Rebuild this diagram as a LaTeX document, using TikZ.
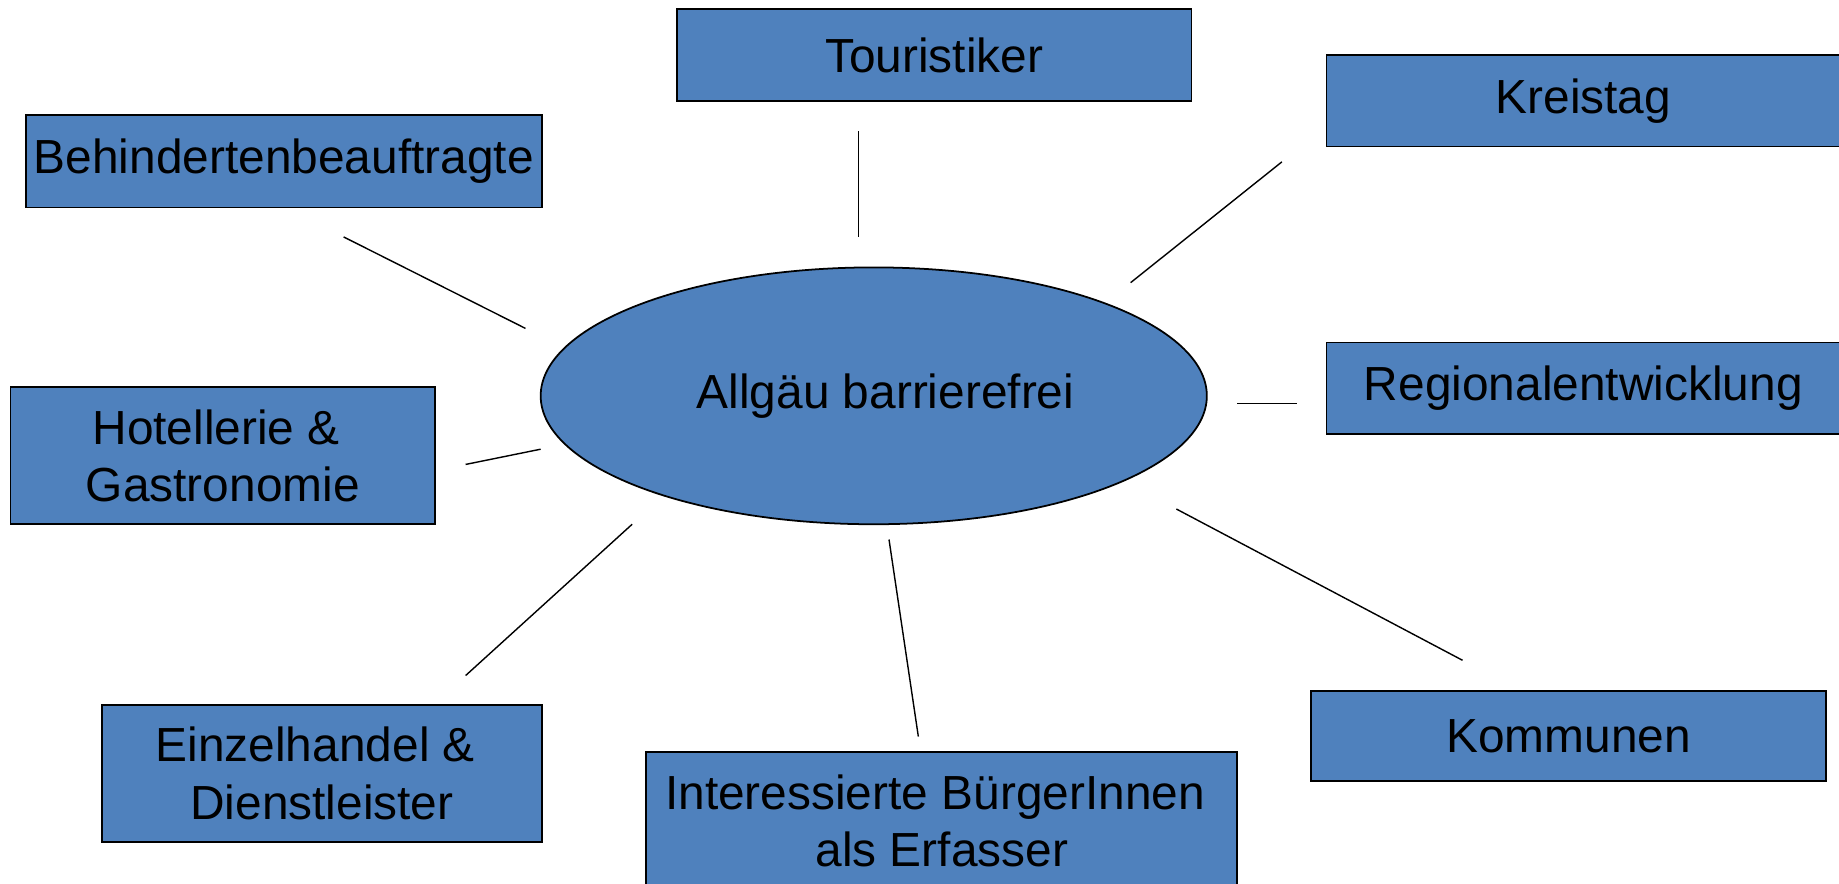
\documentclass[tikz,border=0pt]{standalone}
\usepackage{fontspec}
\setmainfont{Liberation Sans}
\usetikzlibrary{shapes.geometric}
\definecolor{boxblue}{HTML}{4F81BD}
\newcommand{\dn}[1]{\raisebox{-2pt}{#1}}
\begin{document}
\begin{tikzpicture}[x=0.5pt,y=-0.5pt,
  every node/.style={inner sep=0pt,outer sep=0pt,font=\fontsize{20.4}{24.5}\selectfont},
  actor/.style={draw=black,fill=boxblue,line width=0.75pt,rectangle,align=center},
  hub/.style={draw=black,fill=boxblue,line width=0.75pt,ellipse,minimum width=284pt,minimum height=109.5pt},
  link/.style={draw=black,line width=0.6pt}]
\useasboundingbox (0,0) rectangle (1568,753.7);
\node[hub] (hub) at (745,337.5) {\hspace*{10pt}\dn{Allgäu barrierefrei}};
\node[actor,minimum width=219.5pt,minimum height=39pt] (tour) at (796.5,47) {\dn{Touristiker}};
\node[actor,minimum width=219pt,minimum height=39pt] (kreis) at (1350,86) {\dn{Kreistag}};
\node[actor,minimum width=220pt,minimum height=39.5pt] (behind) at (242,137.5) {\dn{Behindertenbeauftragte}};
\node[actor,minimum width=219pt,minimum height=39pt] (regio) at (1350,331) {\dn{Regionalentwicklung}};
\node[actor,minimum width=181pt,minimum height=58.5pt] (hotel) at (190,388.5) {Hotellerie \&\hspace*{0.278em}\\Gastronomie};
\node[actor,minimum width=187.5pt,minimum height=58.5pt] (einzel) at (274.5,659.5) {Einzelhandel \&\hspace*{0.278em}\\Dienstleister};
\node[actor,minimum width=252pt,minimum height=58.5pt] (inter) at (803,700) {Interessierte BürgerInnen\hspace*{0.278em}\\als Erfasser};
\node[actor,minimum width=219.5pt,minimum height=38.5pt] (komm) at (1337.5,627.5) {\dn{Kommunen}};
% free-standing connector ends
\coordinate (t1) at (732,112); \coordinate (t2) at (732,202);
\coordinate (k1) at (1093,138); \coordinate (k2) at (964,241);
\coordinate (b1) at (293,202); \coordinate (b2) at (448,280);
\coordinate (r1) at (1055,344); \coordinate (r2) at (1106,344);
\coordinate (h1) at (397,396); \coordinate (h2) at (461,383);
\coordinate (e1) at (397,576); \coordinate (e2) at (539,447);
\coordinate (i1) at (758,460); \coordinate (i2) at (783,628);
\coordinate (m1) at (1003,434); \coordinate (m2) at (1247,563);
\draw[link] (t1) -- (t2);
\draw[link] (k1) -- (k2);
\draw[link] (b1) -- (b2);
\draw[link] (r1) -- (r2);
\draw[link] (h1) -- (h2);
\draw[link] (e1) -- (e2);
\draw[link] (i1) -- (i2);
\draw[link] (m1) -- (m2);
\end{tikzpicture}
\end{document}
